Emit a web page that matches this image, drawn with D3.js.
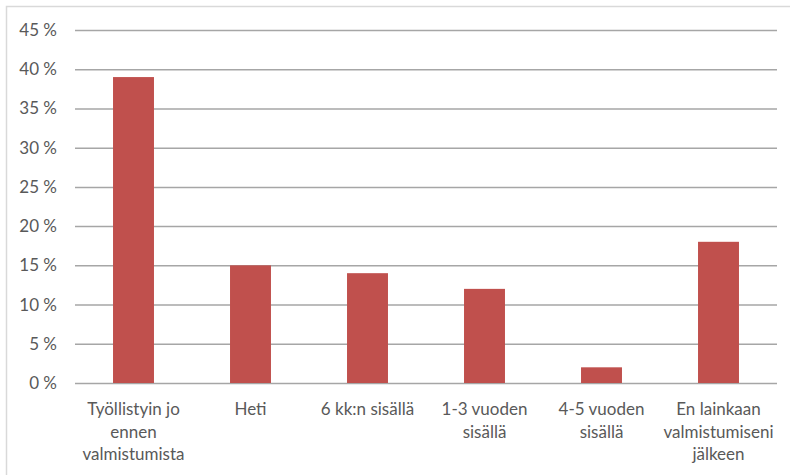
<!DOCTYPE html>
<html><head><meta charset="utf-8">
<script src="https://cdn.jsdelivr.net/npm/d3@7"></script>
<style>body{margin:0;background:#fff;}svg{display:block;}</style>
</head><body>
<svg id="c" width="790" height="475"></svg>
<script>
const categories = [
  ["Työllistyin jo","ennen","valmistumista"],
  ["Heti"],
  ["6 kk:n sisällä"],
  ["1-3 vuoden","sisällä"],
  ["4-5 vuoden","sisällä"],
  ["En lainkaan","valmistumiseni","jälkeen"]
];
const values = [39, 15, 14, 12, 2, 18];
const yTicks = [0,5,10,15,20,25,30,35,40,45];

const svg = d3.select("#c");
const font = "Lato, 'Open Sans', sans-serif";
svg.append("rect").attr("x",6.5).attr("y",6.5).attr("width",900).attr("height",600)
  .attr("fill","#fff").attr("stroke","#D9D9D9").attr("stroke-width",1.5);

const x = d3.scaleBand().domain(d3.range(values.length)).range([75,777]).paddingInner(0.65).paddingOuter(0.325);
const y = d3.scaleLinear().domain([0,45]).range([383,30]);

const yAxis = svg.append("g").attr("transform","translate(75,0)")
  .call(d3.axisLeft(y).tickValues(yTicks).tickSize(-702).tickPadding(18).tickFormat(d=>d+" %"));
yAxis.select(".domain").remove();
yAxis.selectAll("line").attr("stroke","#A6A6A6").attr("stroke-width",1.5);
yAxis.selectAll("text").attr("fill","#595959").style("font-family",font).style("font-size","17px");

svg.append("g").selectAll("rect").data(values).join("rect")
  .attr("x",(d,i)=>x(i)).attr("width",x.bandwidth())
  .attr("y",d=>y(d)).attr("height",d=>y(0)-y(d))
  .attr("fill","#C0504D");

const lab = svg.append("g").selectAll("text").data(categories).join("text")
  .attr("text-anchor","middle").attr("fill","#595959")
  .style("font-family",font).style("font-size","17px");
lab.each(function(lines,i){
  const t = d3.select(this);
  lines.forEach((l,j)=>{
    t.append("tspan").attr("x",x(i)+x.bandwidth()/2).attr("y",415+j*22.5).text(l);
  });
});
</script>
</body></html>
